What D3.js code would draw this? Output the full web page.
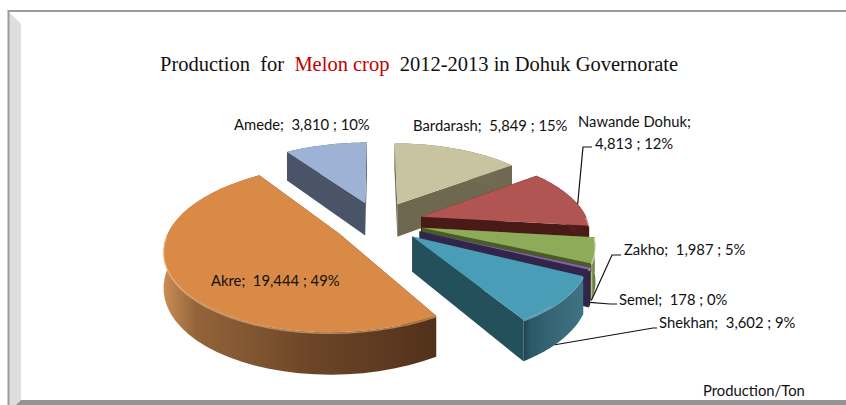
<!DOCTYPE html>
<html><head><meta charset="utf-8">
<script src="https://cdn.jsdelivr.net/npm/d3@7/dist/d3.min.js"></script>
<style>html,body{margin:0;background:#fff}svg{display:block}text{white-space:pre}</style>
</head><body><div id="c"></div>
<script>
const categories=["Bardarash","Nawande Dohuk","Zakho","Semel","Shekhan","Akre","Amede"];
const production=[5849,4813,1987,178,3602,19444,3810];
const topColors=["#c8c3a0","#b05552","#8dab58","#8462a6","#4a9db6","#d98a46","#9db2d4"];
const wallColors=["#6e6850","#4a1a16","#4a5c26","#32254a","#24505c","#5a3517","#4a5468"];
const rimStops=[["#8a8468","#6e6850"],["#7a3a36","#4a1a16"],["#b8c89a","#5a6e30"],["#32254a","#32254a"],["#1d434e","#3f7284"],["#c98d55","#52311a"],["#4a5468","#4a5468"]];
const highlight=["#fff","#fff","#fff","#fff","#8fd0e2","#f6c08c","#fff"];
const W=846,H=405;
const cx=378,cy=222,Rx=167,Ry=77,persp=0.174,depth=34,explode=0.27;
const svg=d3.select("#c").append("svg").attr("width",W).attr("height",H);
const defs=svg.append("defs");
const F="Lato,'Open Sans',sans-serif";

// frame
svg.append("path").attr("d",`M9 12L21 24V400L17 405H9Z`).attr("fill","#dedede");
svg.append("path").attr("d",`M9 11H${W}M8.5 10V405`).attr("stroke","#9c9c9c").attr("stroke-width",2).attr("fill","none");
svg.append("path").attr("d",`M21 400H${W}V405H16Z`).attr("fill","#949494");

// title
const title=svg.append("text").attr("x",160).attr("y",71).attr("font-family","'Liberation Serif',serif").attr("font-size",20.5).attr("fill","#111");
title.append("tspan").text("Production  for  ");
title.append("tspan").attr("fill","#c00000").text("Melon crop");
title.append("tspan").text("  2012-2013 in Dohuk Governorate");

// pie
const arcs=d3.pie().sort(null).startAngle(0).endAngle(2*Math.PI)(production);
const total=d3.sum(production);
const fmt=d3.format(",");
const project=(X,Z,drop)=>{const s=1/(1+persp*Z);return [cx+Rx*X*s,cy-Ry*Z*s+(drop||0)*depth*s];};
const line=d3.line();
const drawOrder=[6,0,1,2,3,4,5];
const rimPoints=arcs.map(a=>{
  const m=(a.startAngle+a.endAngle)/2,ox=explode*Math.sin(m),oz=explode*Math.cos(m);
  const angles=d3.range(0,41).map(i=>a.startAngle+(a.endAngle-a.startAngle)*i/40);
  return {ox,oz,angles};
});
drawOrder.forEach(i=>{
  const {ox,oz,angles}=rimPoints[i];
  const top=angles.map(t=>project(ox+Math.sin(t),oz+Math.cos(t),0));
  const low=angles.map(t=>project(ox+Math.sin(t),oz+Math.cos(t),1));
  const apex=project(ox,oz,0),apexLow=project(ox,oz,1);
  const g=svg.append("g");
  const gid="rim"+i;
  const xs=top.concat(low).map(p=>p[0]);
  const lg=defs.append("linearGradient").attr("id",gid).attr("gradientUnits","userSpaceOnUse")
    .attr("x1",d3.min(xs)).attr("x2",d3.max(xs)).attr("y1",0).attr("y2",0);
  const mix=d3.interpolateRgb(rimStops[i][0],rimStops[i][1]);
  [[0,0],[.12,.45],[.55,.78],[1,1]].forEach(s=>lg.append("stop").attr("offset",s[0]).attr("stop-color",mix(s[1])));
  [0,top.length-1].forEach(k=>{
    g.append("path").attr("d",line([apex,top[k],low[k],apexLow])+"Z").attr("fill",wallColors[i]);
  });
  g.append("path").attr("d",line(top.concat(low.slice().reverse()))+"Z").attr("fill",`url(#${gid})`);
  g.append("path").attr("d",line([apex].concat(top))+"Z").attr("fill",topColors[i]);
  const front=top.map(p=>[p[0],p[1]+1]).filter((p,k)=>Math.cos(angles[k])<0);
  if(front.length) g.append("path").attr("d",line(front)).attr("fill","none").attr("stroke",highlight[i]).attr("stroke-opacity",.55).attr("stroke-width",1.6);
});

// leader lines: start on the slice rim, then run to the label
const rimAt=(i,frac,drop)=>{const r=rimPoints[i],a=arcs[i],t=a.startAngle+(a.endAngle-a.startAngle)*frac;return project(r.ox+Math.sin(t),r.oz+Math.cos(t),drop);};
const leaders=[
 {i:1,frac:.62,drop:0,via:[[583,147],[592,147]]},
 {i:2,frac:1,drop:1,via:[[612,255],[621,255]]},
 {i:3,frac:.5,drop:.9,via:[[610,304],[617,304]]},
 {i:4,frac:.6,drop:1,via:[[653,328],[657,328]]}
];
leaders.forEach(l=>{
  svg.append("path").attr("d",line([rimAt(l.i,l.frac,l.drop)].concat(l.via))).attr("fill","none").attr("stroke","#111").attr("stroke-width",1.2);
});

// labels
const label=i=>`${categories[i]};  ${fmt(production[i])} ; ${Math.round(production[i]/total*100)}%`;
const txt=(x,y,s,a)=>svg.append("text").attr("x",x).attr("y",y).attr("font-family",F).attr("font-size",14.8).attr("fill","#111").attr("text-anchor",a||"start").text(s);
txt(234,130,label(6));
txt(413,131,label(0));
txt(578,127,categories[1]+";");
txt(595,149,`${fmt(production[1])} ; ${Math.round(production[1]/total*100)}%`);
txt(624,255,label(2));
txt(619,305,label(3));
txt(659,328,label(4));
txt(211,286,label(5));
txt(703,396,"Production/Ton");
</script></body></html>
